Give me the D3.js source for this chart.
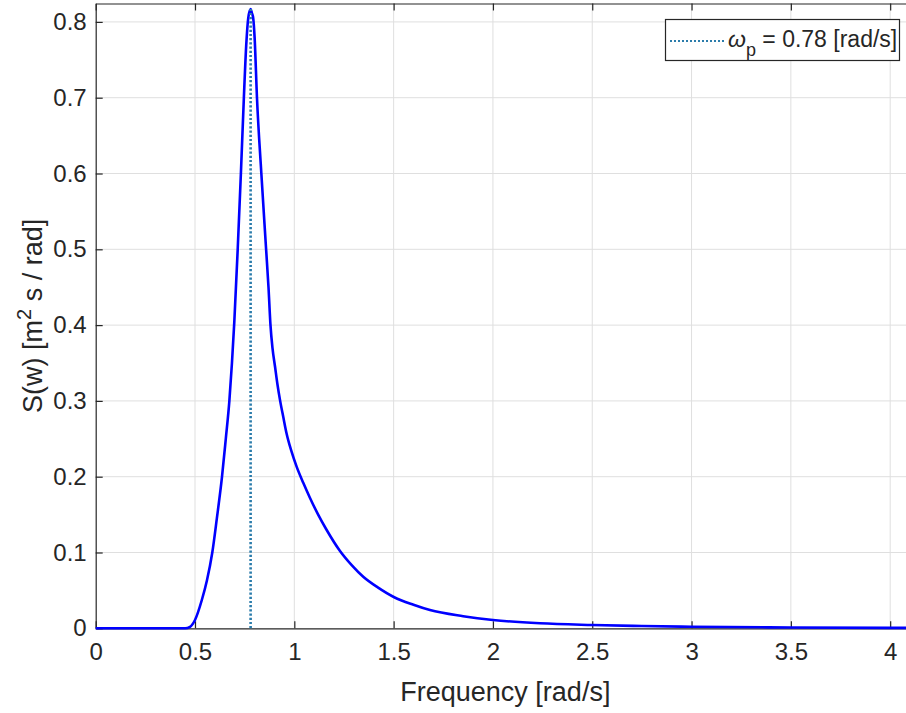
<!DOCTYPE html>
<html>
<head>
<meta charset="utf-8">
<script src="https://cdn.jsdelivr.net/npm/d3@7"></script>
<style>
  body { margin: 0; background: #fff; }
  svg { display: block; font-family: "Liberation Sans", Arial, sans-serif; }
</style>
</head>
<body>
<svg class="spectrum-chart"></svg>
<script>
// frequency [rad/s] and spectral density
var freq = [0, 0.45, 0.475, 0.50, 0.534, 0.56, 0.587, 0.61, 0.636, 0.655, 0.673, 0.686, 0.698, 0.715, 0.731,
	0.746, 0.758, 0.768, 0.78, 0.786, 0.793, 0.80, 0.812, 0.834, 0.858, 0.870, 0.880, 0.890, 0.903, 0.915,
	0.928, 0.945, 0.961, 0.985, 1.012, 1.045, 1.079, 1.12, 1.16, 1.23, 1.29, 1.347, 1.42, 1.503, 1.6, 1.683,
	1.85, 2.0, 2.237, 2.5, 2.75, 3.0, 3.5, 4.0, 4.2];
var spec = [0, 0, 0.002, 0.011, 0.037, 0.063, 0.1, 0.145, 0.2, 0.25, 0.3, 0.35, 0.405, 0.5, 0.6,
	0.7, 0.77, 0.805, 0.817, 0.812, 0.805, 0.78, 0.70, 0.60, 0.50, 0.45, 0.40, 0.37, 0.345, 0.322,
	0.301, 0.278, 0.257, 0.234, 0.213, 0.192, 0.172, 0.150, 0.131, 0.102, 0.083, 0.068, 0.054, 0.041, 0.031, 0.024,
	0.016, 0.011, 0.0066, 0.0044, 0.003, 0.002, 0.0011, 0.0006, 0.0005];

var xTicks = [0, 0.5, 1, 1.5, 2, 2.5, 3, 3.5, 4];
var yTicks = [0, 0.1, 0.2, 0.3, 0.4, 0.5, 0.6, 0.7, 0.8];
var peakFreq = 0.78;
var peakValue = 0.817;

var W = 906, H = 713;
var pl = 95.7, pr = 915, pt = 3.5, pb = 628.3;

var svg = d3.select('.spectrum-chart')
	.attr('width', W)
	.attr('height', H);

var x = d3.scaleLinear().domain([0, 4.125]).range([pl, pr]);
var y = d3.scaleLinear().domain([0, 0.8243]).range([pb, pt]);

var textCol = '#262626';

// grid
svg.append('g')
	.selectAll('line')
	.data(xTicks.slice(1))
  .enter().append('line')
	.attr('x1', function(d) { return x(d) }).attr('x2', function(d) { return x(d) })
	.attr('y1', pt).attr('y2', pb)
	.attr('stroke', '#dfdfdf').attr('stroke-width', 1);

svg.append('g')
	.selectAll('line')
	.data(yTicks.slice(1))
  .enter().append('line')
	.attr('x1', pl).attr('x2', pr)
	.attr('y1', function(d) { return y(d) }).attr('y2', function(d) { return y(d) })
	.attr('stroke', '#dfdfdf').attr('stroke-width', 1);

// axes (ticks point inwards like matlab)
var fmt = function(d) { return String(d) };

var xAxis = svg.append('g')
	.attr('transform', 'translate(0,' + pb + ')')
	.call(d3.axisBottom(x).tickValues(xTicks).tickFormat(fmt).tickSizeInner(-7).tickSizeOuter(0).tickPadding(15));
var xTop = svg.append('g')
	.attr('transform', 'translate(0,' + pt + ')')
	.call(d3.axisTop(x).tickValues(xTicks).tickFormat('').tickSizeInner(-7).tickSizeOuter(0));
var yAxis = svg.append('g')
	.attr('transform', 'translate(' + pl + ',0)')
	.call(d3.axisLeft(y).tickValues(yTicks).tickFormat(fmt).tickSizeInner(-7).tickSizeOuter(0).tickPadding(9));

[xAxis, xTop, yAxis].forEach(function(g) {
	g.select('.domain').attr('stroke', textCol).attr('stroke-width', 1.2);
	g.selectAll('.tick line').attr('stroke', textCol).attr('stroke-width', 1.2);
	g.selectAll('.tick text').attr('fill', textCol).style('font-size', '24px');
});

// spectrum curve
var line = d3.line()
	.x(function(d, i) { return x(freq[i]) })
	.y(function(d) { return y(d) })
	.curve(d3.curveMonotoneX);

svg.append('path')
	.datum(spec)
	.attr('d', line)
	.attr('fill', 'none')
	.attr('stroke', '#0000ff')
	.attr('stroke-width', 2.6)
	.attr('stroke-linejoin', 'round');

// peak marker
svg.append('line')
	.attr('x1', x(peakFreq)).attr('x2', x(peakFreq))
	.attr('y1', y(0)).attr('y2', y(peakValue))
	.attr('stroke', '#2b7cab')
	.attr('stroke-width', 2.6)
	.attr('stroke-dasharray', '2.2,2');

// legend
var lg = svg.append('g');
lg.append('rect')
	.attr('x', 665.5).attr('y', 19.5).attr('width', 234).attr('height', 41)
	.attr('fill', '#fff').attr('stroke', textCol).attr('stroke-width', 1.2);
lg.append('line')
	.attr('x1', 670).attr('x2', 726).attr('y1', 41).attr('y2', 41)
	.attr('stroke', '#2b7cab').attr('stroke-width', 2.2)
	.attr('stroke-dasharray', '2,2');
var lt = lg.append('text')
	.attr('x', 728).attr('y', 47)
	.attr('fill', textCol)
	.style('font-size', '23px');
lt.append('tspan').style('font-style', 'italic').text('ω');
lt.append('tspan').attr('dy', 9).style('font-size', '18px').text('p');
lt.append('tspan').attr('dy', -9).text(' = 0.78 [rad/s]');

// axis labels
svg.append('text')
	.attr('x', (pl + pr) / 2).attr('y', 701)
	.attr('text-anchor', 'middle')
	.attr('fill', textCol)
	.style('font-size', '27px')
	.text('Frequency [rad/s]');

var yl = svg.append('text')
	.attr('transform', 'translate(42,' + ((pt + pb) / 2) + ') rotate(-90)')
	.attr('text-anchor', 'middle')
	.attr('fill', textCol)
	.style('font-size', '27px');
yl.append('tspan').text('S(w) [m');
yl.append('tspan').attr('dy', -11).style('font-size', '20px').text('2');
yl.append('tspan').attr('dy', 11).text(' s / rad]');
</script>
</body>
</html>
